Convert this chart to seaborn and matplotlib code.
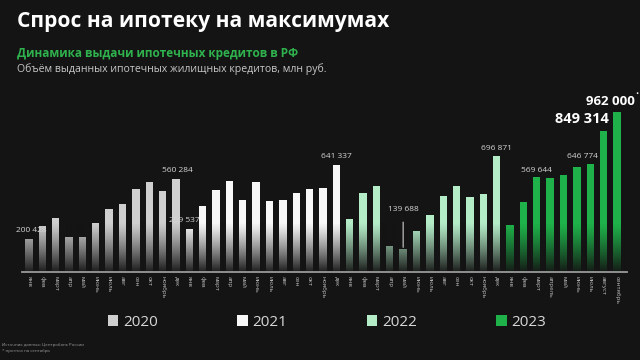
import numpy as np
import pandas as pd
import seaborn as sns
import matplotlib.pyplot as plt
from matplotlib.patches import Patch

# ===============================
# 1. DATA
# ===============================
months_std = ["янв", "фев", "март", "апр", "май", "июнь", "июль", "авг", "сен", "окт", "ноябрь", "дек"]
months_2023 = ["янв", "фев", "март", "апрель", "май", "июнь", "июль", "август", "сентябрь"]

vals_2020 = [200428, 276000, 324000, 211000, 210000, 295000, 380000, 409000, 500000, 543000, 487000, 560284]
vals_2021 = [259537, 397000, 495000, 547000, 432000, 541000, 429000, 435000, 475000, 497000, 505000, 641337]
vals_2022 = [321000, 474000, 518000, 157000, 139688, 249000, 341000, 457000, 518000, 449000, 470000, 696871]
vals_2023 = [280000, 421000, 569644, 566000, 581000, 630000, 646774, 849314, 962000]

years = ["2020", "2021", "2022", "2023"]
colors = ["#cfcfcf", "#f7f7f7", "#b4ecc8", "#1fb24a"]

# labelled bars: (index, text)
labels_small = [(0, "200 428"), (11, "560 284"), (12, "259 537"), (23, "641 337"),
                (28, "139 688"), (35, "696 871"), (38, "569 644"), (42, "646 774")]
labels_big = [(43, "849 314"), (44, "962 000")]

title = "Спрос на ипотеку на максимумах"
subtitle = "Динамика выдачи ипотечных кредитов в РФ"
subtitle2 = "Объём выданных ипотечных жилищных кредитов, млн руб."
footer = "Источник данных: Центробанк России\n* прогноз на сентябрь"

# ===============================
# 2. FRAME
# ===============================
values = vals_2020 + vals_2021 + vals_2022 + vals_2023
months = months_std * 3 + months_2023
year_col = ["2020"] * 12 + ["2021"] * 12 + ["2022"] * 12 + ["2023"] * 9
df = pd.DataFrame({"pos": range(len(values)), "value": values, "year": year_col})

# ===============================
# 3. PLOT
# ===============================
bg = "#141414"
sns.set_theme(style="dark")
plt.rcParams["font.family"] = ["Open Sans", "DejaVu Sans"]

fig = plt.figure(figsize=(6.4, 3.6), dpi=100, facecolor=bg)
ax = fig.add_axes([22 / 640, 1 - 272 / 360, 605 / 640, 182 / 360])
ax.set_facecolor(bg)

sns.barplot(data=df, x="pos", y="value", hue="year", palette=dict(zip(years, colors)),
            dodge=False, width=0.55, ax=ax, legend=False, saturation=1, linewidth=0)

ymax = 182 * 6012
ax.set_xlim(-0.52, 44.75)

# fade bars towards the baseline
grad = np.zeros((100, 2, 4))
grad[:, :, :3] = np.array([0x14, 0x14, 0x14]) / 255
grad[:, :, 3] = np.linspace(0.97, 0.0, 100)[:, None] ** 1.2
ax.imshow(grad, extent=[-0.52, 44.75, 0, 300000], origin="lower", aspect="auto", zorder=3)
ax.set_ylim(0, ymax)

for s in ["top", "right", "left"]:
    ax.spines[s].set_visible(False)
ax.spines["bottom"].set_color("#9a9a9a")
ax.spines["bottom"].set_linewidth(1.3)
ax.spines["bottom"].set_zorder(5)
ax.set_yticks([])
ax.set_xticks(range(len(months)))
ax.set_xticklabels(months, rotation=-90, fontsize=4.5, color="#bdbdbd")
ax.tick_params(axis="x", length=0, pad=3)
ax.set_xlabel("")
ax.set_ylabel("")
ax.grid(False)

# value labels
offsets = {0: (2, 8), 11: (1, 8), 12: (-5, 8), 23: (0, 9), 28: (0, 39),
           35: (0, 8), 38: (0, 7), 42: (-8, 8)}
for i, txt in labels_small:
    dx, dy = offsets[i]
    kw = {}
    if i == 28:
        kw["arrowprops"] = dict(arrowstyle="-", color="#cfcfcf", lw=0.8, shrinkA=4, shrinkB=1)
    ax.annotate(txt, xy=(i, values[i]), xytext=(dx, dy), textcoords="offset pixels",
                ha="center", va="center", fontsize=6, color="#d4d4d4", zorder=6, **kw)

big_off = {43: (-22, 12, 10.5), 44: (-7, 10, 9.5)}
for i, txt in labels_big:
    dx, dy, fs = big_off[i]
    ax.annotate(txt, xy=(i, values[i]), xytext=(dx, dy), textcoords="offset pixels",
                ha="center", va="center", fontsize=fs, color="white",
                fontweight="bold", zorder=6)
ax.annotate("•", xy=(44, values[44]), xytext=(20, 17), textcoords="offset pixels",
            ha="center", va="center", fontsize=6, color="white", zorder=6)

# ===============================
# 4. TEXTS & LEGEND
# ===============================
fig.text(17 / 640, 1 - 21 / 360, title, fontsize=15.1, fontweight="bold",
         color="white", va="center", ha="left")
fig.text(17 / 640, 1 - 54 / 360, subtitle, fontsize=8.5, fontweight="bold",
         color="#2fb14d", va="center", ha="left")
fig.text(17 / 640, 1 - 69 / 360, subtitle2, fontsize=7.6,
         color="#c8c8c8", va="center", ha="left")
fig.text(2 / 640, 1 - 348 / 360, footer, fontsize=3.2, color="#9a9a9a",
         va="center", ha="left", linespacing=1.6)

handles = [Patch(facecolor=c, edgecolor="none", label=y) for y, c in zip(years, colors)]
fig.legend(handles=handles, loc="center", bbox_to_anchor=(327 / 640, 1 - 322 / 360),
           ncol=4, frameon=False, fontsize=11, labelcolor="#d8d8d8",
           handlelength=0.7, handleheight=0.7, handletextpad=0.3, columnspacing=5.2)

fig.savefig("out.png", dpi=100, facecolor=bg)
